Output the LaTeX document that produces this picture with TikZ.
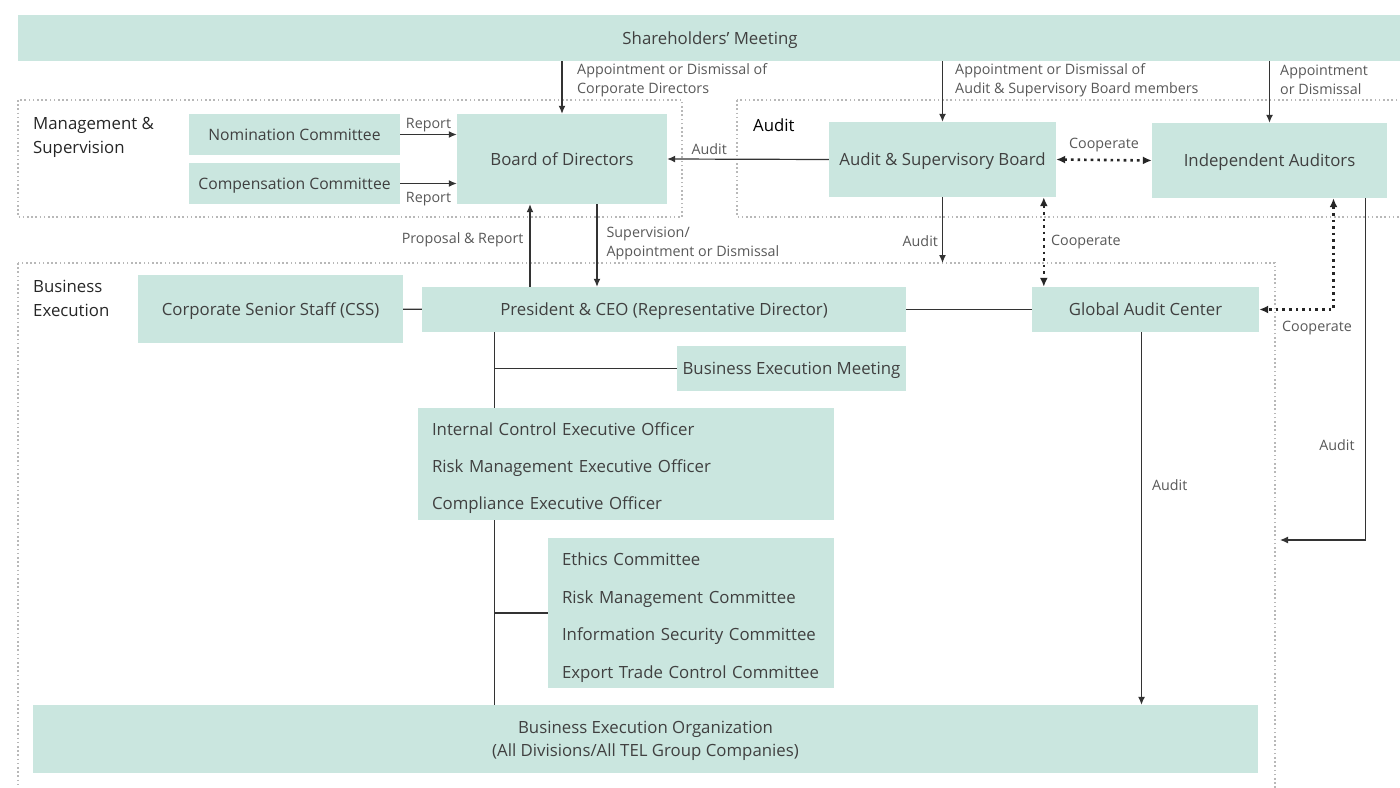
\documentclass[tikz,border=0pt]{standalone}
\usepackage{fontspec}
\setmainfont{Open Sans}
\usepackage{tikz}
\usetikzlibrary{arrows.meta,positioning}
\definecolor{mint}{HTML}{CAE6DF}
\definecolor{ink}{HTML}{404040}
\definecolor{labelgray}{HTML}{585858}

\begin{document}
\begin{tikzpicture}[x=1pt,y=-1pt,
  box/.style={rectangle,fill=mint,inner sep=0pt,text=ink,text depth=0pt,font=\fontsize{16.8}{20}\selectfont},
  lbl/.style={inner sep=0pt,text=labelgray,font=\fontsize{14.3}{19}\selectfont,align=left},
  heading/.style={inner sep=0pt,text=black!85,font=\fontsize{16.8}{24}\selectfont,align=left},
  frame/.style={draw=black!28,line width=1.6pt,dash pattern=on 1.6pt off 2.6pt},
  arr/.style={draw=black!80,line width=1.2pt,-{Latex[length=8pt,width=7pt]}},
  link/.style={draw=black!80,line width=1.2pt},
  coop/.style={draw=black!85,line width=2.6pt,dash pattern=on 2.6pt off 4pt,
    {Latex[length=9pt,width=8pt]}-{Latex[length=9pt,width=8pt]}}]

  \useasboundingbox (0,0) rectangle (1400,787);

  % dotted frames
  \draw[frame] (18,100) rectangle (682,217);
  \draw[frame] (737,100) rectangle (1410,217);
  \draw[frame] (18,263) rectangle (1275,800);
  \coordinate (betop) at (18,263);

  \node[heading,anchor=west] (hms) at (33,137) {Management \&\\Supervision};
  \node[heading,anchor=west,text=black] (hau) at (753,125) {Audit};
  \node[heading,anchor=west] (hbe) at (33,298) {Business\\Execution};

  % boxes
  \node[box,minimum width=1384,minimum height=46] (sm) at (710,38) {Shareholders’ Meeting};
  \node[box,minimum width=211,minimum height=41,font=\fontsize{15.7}{20}\selectfont] (nom) at (294.5,134.5) {Nomination Committee};
  \node[box,minimum width=211,minimum height=41,font=\fontsize{15.7}{20}\selectfont] (comp) at (294.5,183.5) {Compensation Committee};
  \node[box,minimum width=210,minimum height=90] (bod) at (562,159) {Board of Directors};
  \node[box,minimum width=227,minimum height=75] (asb) at (942.5,159.5) {Audit \& Supervisory Board};
  \node[box,minimum width=235,minimum height=75] (ia) at (1269.5,160.5) {Independent Auditors};
  \node[box,minimum width=265,minimum height=68] (css) at (270.5,309) {Corporate Senior Staff (CSS)};
  \node[box,minimum width=484,minimum height=45] (ceo) at (664,309.5) {President \& CEO (Representative Director)};
  \node[box,minimum width=227,minimum height=45] (gac) at (1145.5,309.5) {Global Audit Center};
  \node[box,minimum width=229,minimum height=45] (bem) at (791.5,368.5) {Business Execution Meeting};
  \node[box,minimum width=416,minimum height=112,text width=388,align=left,
    text height=12pt,text depth=69pt,
    font=\fontsize{16.8}{37}\selectfont] (off) at (626,464)
    {Internal Control Executive Officer\\Risk Management Executive Officer\\Compliance Executive Officer};
  \node[box,minimum width=286,minimum height=150,text width=258,align=left,
    text height=12pt,text depth=107pt,
    font=\fontsize{16.8}{37.7}\selectfont] (cmt) at (691,613)
    {Ethics Committee\\Risk Management Committee\\Information Security Committee\\Export Trade Control Committee};
  \node[box,minimum width=1225,minimum height=68,align=center,
    font=\fontsize{16.8}{23}\selectfont] (beo) at (645.5,739)
    {Business Execution Organization\\(All Divisions/All TEL Group Companies)};

  % appointments from the meeting
  \draw[arr] (sm.south -| bod.north) -- (bod.north);
  \draw[arr] (sm.south -| asb.north) -- (asb.north);
  \draw[arr] (sm.south -| ia.north) -- (ia.north);
  \node[lbl,anchor=west] (l1) at (577,80) {Appointment or Dismissal of\\Corporate Directors};
  \node[lbl,anchor=west] (l2) at (955,80) {Appointment or Dismissal of\\Audit \& Supervisory Board members};
  \node[lbl,anchor=west] (l3) at (1280,80) {Appointment\\or Dismissal};

  % management & supervision
  \draw[arr] (nom.east) -- (nom.east -| bod.west) node[lbl,midway,above=2pt] {Report};
  \draw[arr] (comp.east) -- (comp.east -| bod.west) node[lbl,midway,below=8pt] {Report};
  \draw[arr] (asb.west) -- (bod.east) node[lbl,pos=0.74,above=4pt] {Audit};
  \draw[coop] (asb.east) -- (ia.west) node[lbl,midway,above=7pt] {Cooperate};

  % between the frames
  \draw[arr] (asb.south) -- (asb.south |- betop) node[lbl,pos=0.67,left=4pt] {Audit};
  \draw[coop] ([xshift=12pt]gac.north west |- asb.south) -- ([xshift=12pt]gac.north west)
    node[lbl,midway,right=6pt] {Cooperate};
  \draw[coop] ([xshift=64pt]ia.south) |- (gac.east);
  \node[lbl] (l4) at (1317,328) {Cooperate};
  \coordinate (iaend) at (1280,540);
  \draw[arr] ([xshift=96pt]ia.south) |- (iaend);
  \node[lbl] (l5) at (1337,445) {Audit};
  \draw[arr] ([xshift=35pt]bod.south) -- ([xshift=35pt]bod.south |- ceo.north)
    node[lbl,pos=0.47,right=9pt] {Supervision/\\Appointment or Dismissal};
  \draw[arr] ([xshift=-32pt]bod.south |- ceo.north) -- ([xshift=-32pt]bod.south)
    node[lbl,pos=0.57,left=6pt] {Proposal \& Report};

  % business execution
  \draw[link] (css) -- (ceo);
  \draw[link] (ceo) -- (gac);
  \draw[arr] ([xshift=-4pt]gac.south) -- ([xshift=-4pt]gac.south |- beo.north)
    node[lbl,pos=0.41,right=10pt] {Audit};
  \coordinate (t1) at ([xshift=73pt]ceo.south west);
  \draw[link] (t1) -- (t1 |- off.north);
  \draw[link] (bem.west) -- (bem.west -| t1);
  \draw[link] (t1 |- off.south) -- (t1 |- beo.north);
  \draw[link] (cmt.west) -- (cmt.west -| t1);

\end{tikzpicture}
\end{document}
